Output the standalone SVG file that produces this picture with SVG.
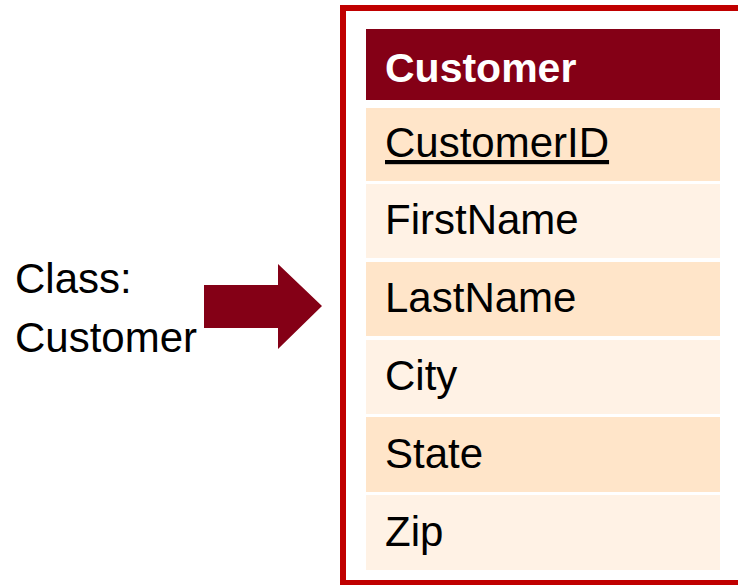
<svg xmlns="http://www.w3.org/2000/svg" width="738" height="585" viewBox="0 0 738 585">
<style>
.t{font-family:"Liberation Sans",Arial,sans-serif;font-size:42px;fill:#000}
.h{font-family:"Liberation Sans",Arial,sans-serif;font-size:41px;font-weight:bold;fill:#fff}
.a{fill:#FFE5C9}
.b{fill:#FFF2E5}
</style>
<rect width="738" height="585" fill="#fff"/>
<g id="label">
<text class="t" x="15" y="293">Class:</text>
<text class="t" x="15" y="352">Customer</text>
</g>
<g id="connectors">
<polygon points="204,285 278,285 278,264 322,306 278,349 278,328 204,328" fill="#840016"/>
</g>
<g id="customer-table">
<rect x="343" y="8" width="400" height="575" fill="none" stroke="#C00000" stroke-width="6"/>
<rect x="366" y="29" width="354" height="71" fill="#840016"/>
<text class="h" x="385" y="82">Customer</text>
<rect class="a" x="366" y="108" width="354" height="73"/>
<text class="t" x="385" y="157" text-decoration="underline">CustomerID</text>
<rect class="b" x="366" y="184" width="354" height="74"/>
<text class="t" x="385" y="234">FirstName</text>
<rect class="a" x="366" y="262" width="354" height="74"/>
<text class="t" x="385" y="312">LastName</text>
<rect class="b" x="366" y="340" width="354" height="74"/>
<text class="t" x="385" y="390">City</text>
<rect class="a" x="366" y="417" width="354" height="75"/>
<text class="t" x="385" y="468">State</text>
<rect class="b" x="366" y="495" width="354" height="75"/>
<text class="t" x="385" y="546">Zip</text>
</g>
</svg>
